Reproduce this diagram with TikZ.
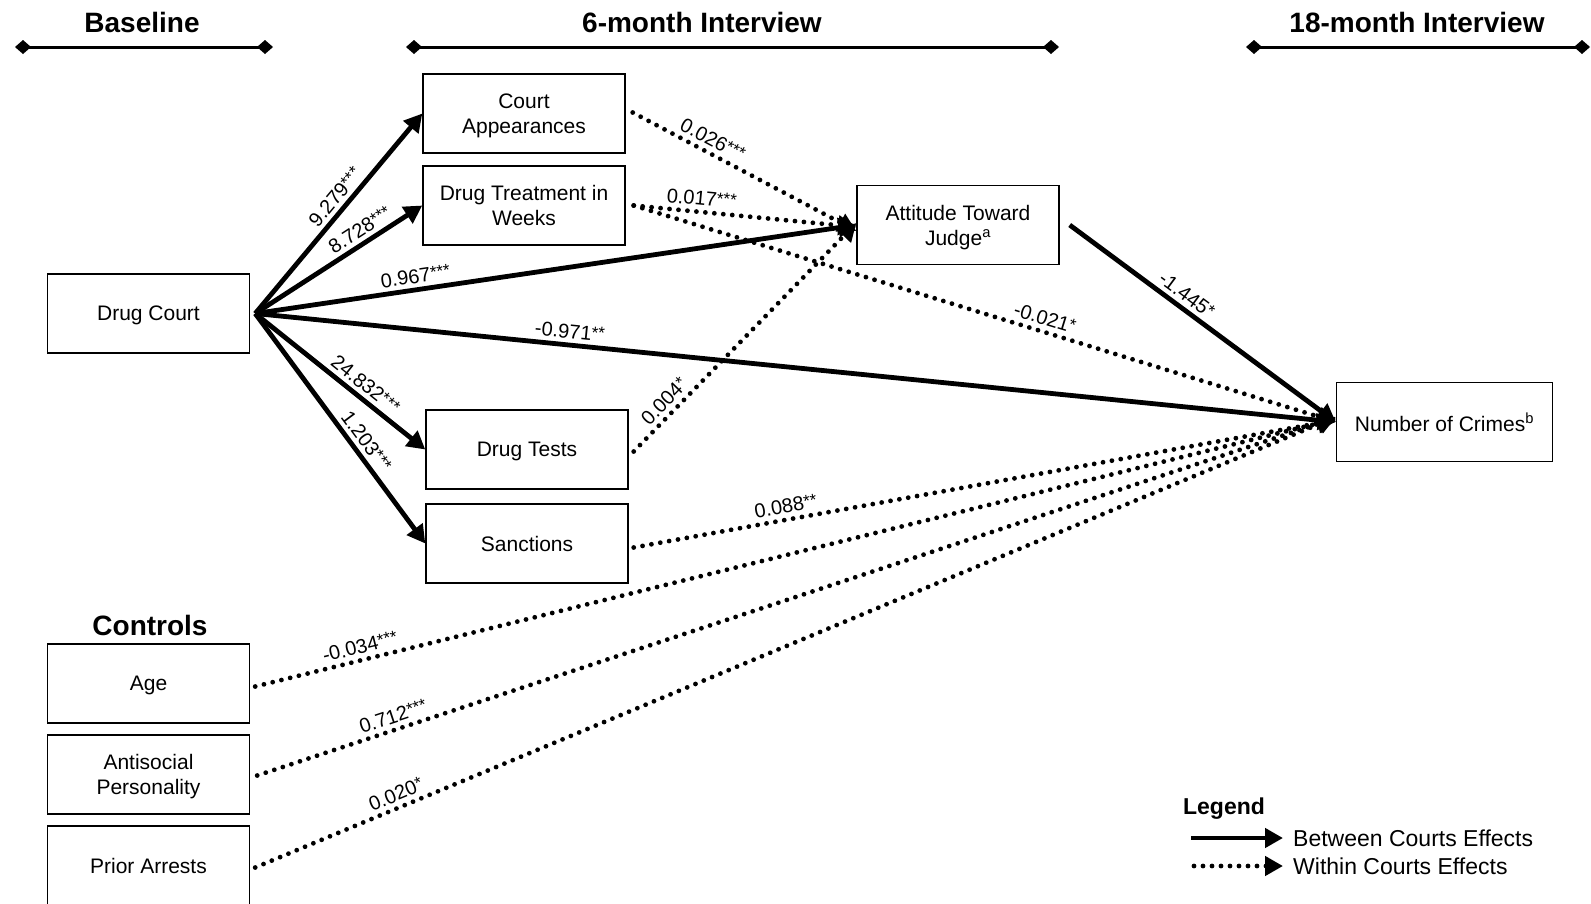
\documentclass[tikz,border=0pt]{standalone}
\usepackage{fontspec}
\setmainfont{Liberation Sans}
\usetikzlibrary{arrows.meta}

\newcommand{\sig}[1]{\raisebox{2.5pt}{\fontsize{17}{17}\selectfont #1}}

\begin{document}
\begin{tikzpicture}[x=1pt, y=-1pt,
    box/.style={draw, line width=1.4pt, minimum width=202pt, minimum height=79pt, align=center, inner sep=2pt, text depth=0pt, font=\fontsize{21}{25}\selectfont},
    between/.style={line width=4.8pt, -{Triangle[length=18pt, width=19pt]}},
    within/.style={line width=4.8pt, line cap=round, dash pattern=on 0pt off 9pt, -{Triangle[length=18pt, width=19pt]}},
    coef/.style={font=\fontsize{20}{24}\selectfont, sloped, above=2pt, inner sep=2pt},
    period/.style={line width=3pt, {Diamond[length=16pt, width=14pt]}-{Diamond[length=16pt, width=14pt]}},
    heading/.style={font=\bfseries\fontsize{28}{32}\selectfont}]

    \clip (0, 0) rectangle (1591, 903);

    % Declare the time periods
    \node[heading] at (142, 22) (Tbase) {Baseline};
    \node[heading] at (702, 22) (Tsix) {6-month Interview};
    \node[heading] at (1417, 22) (Teighteen) {18-month Interview};
    \coordinate (B0) at (15, 47);
    \coordinate (B1) at (273, 47);
    \coordinate (S0) at (406, 47);
    \coordinate (S1) at (1059, 47);
    \coordinate (E0) at (1246, 47);
    \coordinate (E1) at (1590, 47);
    \draw[period] (B0) -- (B1);
    \draw[period] (S0) -- (S1);
    \draw[period] (E0) -- (E1);

    % Declare the boxes
    \node[box] at (148.5, 313.5) (DC) {Drug Court};
    \node[box] at (524, 113.5) (CA) {Court\\Appearances};
    \node[box] at (524, 205.5) (DTW) {Drug Treatment in\\Weeks};
    \node[box] at (527, 449.5) (DT) {Drug Tests};
    \node[box] at (527, 543.5) (SA) {Sanctions};
    \node[box] at (958, 225) (ATJ) {Attitude Toward\\Judge\textsuperscript{a}};
    \node[box, minimum width=216pt] at (1444.5, 422) (NC) {Number of Crimes\textsuperscript{b}};

    % Declare the controls
    \node[heading] at (150, 625) (Tcontrols) {Controls};
    \node[box] at (148.5, 683.5) (AGE) {Age};
    \node[box] at (148.5, 774.5) (ASP) {Antisocial\\Personality};
    \node[box] at (148.5, 865.5) (PA) {Prior Arrests};

    % Declare start points
    \coordinate (DCo) at ([xshift=5pt]DC.east);
    \coordinate (CAo) at ([xshift=7pt, yshift=1pt]CA.east);
    \coordinate (DTWo) at ([xshift=8pt]DTW.east);
    \coordinate (DTo) at ([xshift=5pt, yshift=-2pt]DT.east);
    \coordinate (SAo) at ([xshift=5pt, yshift=-4pt]SA.east);
    \coordinate (ATJo) at ([xshift=10pt]ATJ.east);
    \coordinate (AGEo) at ([xshift=5pt, yshift=-3pt]AGE.east);
    \coordinate (ASPo) at ([xshift=7pt, yshift=-1pt]ASP.east);
    \coordinate (PAo) at ([xshift=5pt, yshift=-2pt]PA.east);

    % Declare between courts edges
    \draw[between] (DCo) -- (CA.west) node[coef, pos=0.54] {9.279\sig{***}};
    \draw[between] (DCo) -- (DTW.west) node[coef, pos=0.67] {8.728\sig{***}};
    \draw[between] (DCo) -- (ATJ.west) node[coef, pos=0.27] {0.967\sig{***}};
    \draw[between] (DCo) -- (NC.west) node[coef, pos=0.29] {-0.971\sig{**}};
    \draw[between] (DCo) -- (DT.west) node[coef, pos=0.6] {24.832\sig{***}};
    \draw[between] (DCo) -- (SA.west) node[coef, pos=0.59] {1.203\sig{***}};
    \draw[between] (ATJo) -- (NC.west) node[coef, pos=0.41] {-1.445\sig{*}};

    % Declare within courts edges
    \draw[within] (CAo) -- ([yshift=-6pt]ATJ.west) node[coef, pos=0.33, above=0pt] {0.026\sig{***}};
    \draw[within] (DTWo) -- ([yshift=-2pt]ATJ.west) node[coef, pos=0.3] {0.017\sig{***}};
    \draw[within] (DTWo) -- (NC.west) node[coef, pos=0.58] {-0.021\sig{*}};
    \draw[within] (DTo) -- ([yshift=2pt]ATJ.west) node[coef, pos=0.18] {0.004\sig{*}};
    \draw[within] (SAo) -- ([yshift=2pt]NC.west) node[coef, pos=0.22] {0.088\sig{**}};
    \draw[within] (AGEo) -- ([yshift=3pt]NC.west) node[coef, pos=0.1] {-0.034\sig{***}};
    \draw[within] (ASPo) -- ([yshift=4pt]NC.west) node[coef, pos=0.13] {0.712\sig{***}};
    \draw[within] (PAo) -- ([yshift=5pt]NC.west) node[coef, pos=0.135] {0.020\sig{*}};

    % Declare the legend
    \node[font=\bfseries\fontsize{23}{27}\selectfont] at (1224, 809) (LG) {Legend};
    \coordinate (L0) at (1191, 838);
    \coordinate (L1) at (1283, 838);
    \coordinate (L2) at (1194, 866);
    \coordinate (L3) at (1283, 866);
    \draw[between] (L0) -- (L1);
    \draw[within] (L2) -- (L3);
    \node[anchor=west, font=\fontsize{23}{27}\selectfont, inner sep=0pt] at (1293, 838) (LB) {Between Courts Effects};
    \node[anchor=west, font=\fontsize{23}{27}\selectfont, inner sep=0pt] at (1293, 866) (LW) {Within Courts Effects};

\end{tikzpicture}
\end{document}
